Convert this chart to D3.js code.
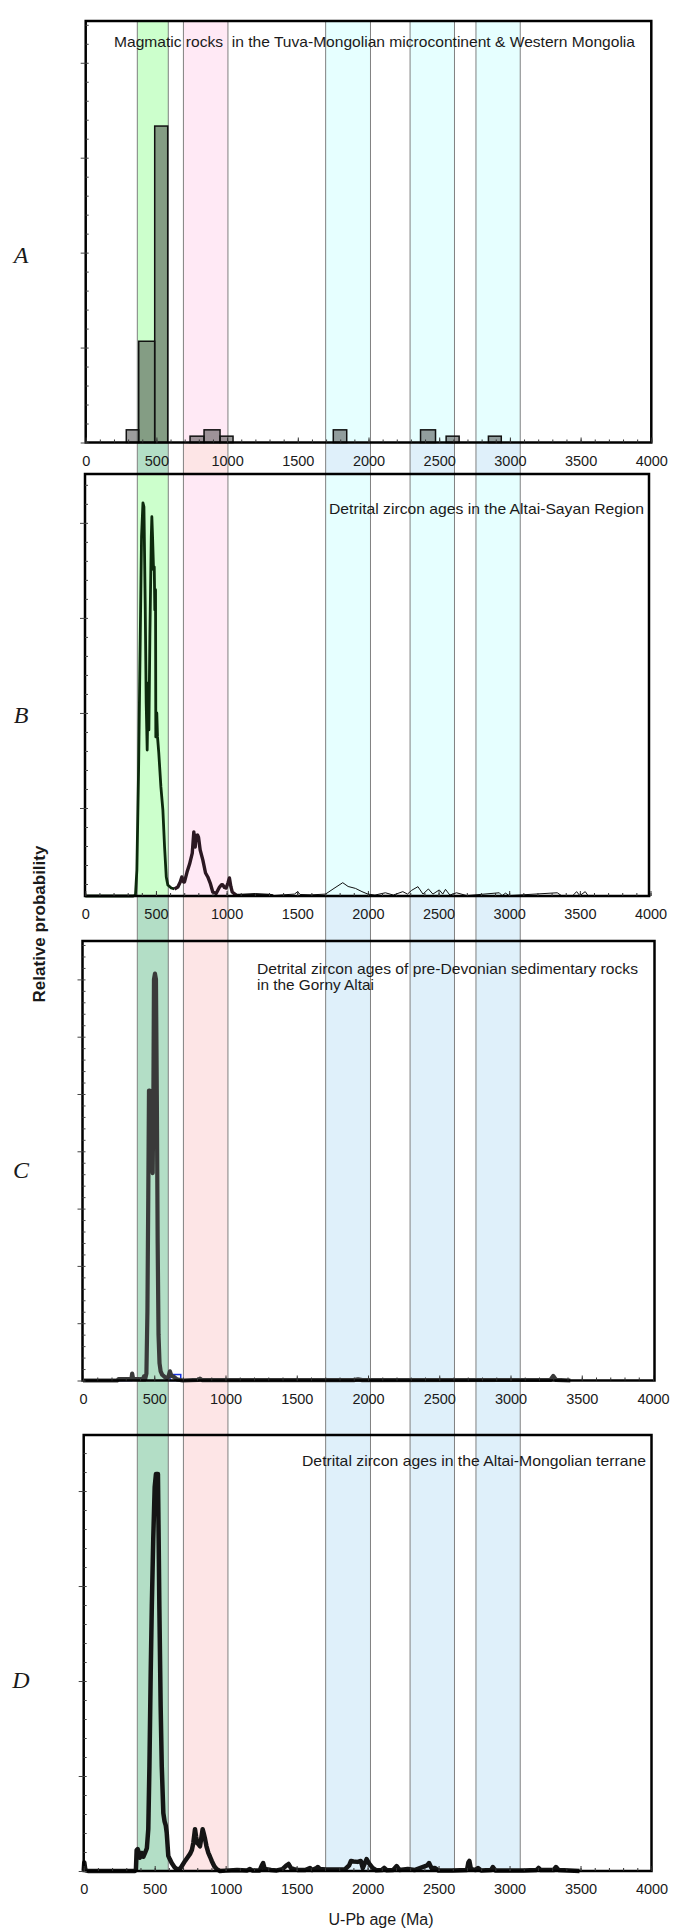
<!DOCTYPE html>
<html>
<head>
<meta charset="utf-8">
<script src="https://cdn.jsdelivr.net/npm/d3@7"></script>
<style>
  body { margin: 0; background: #fff; }
  svg text { font-family: "Liberation Sans", Arial, sans-serif; fill: #1a1a1a; }
</style>
</head>
<body>
<svg id="chart" width="673" height="1932"></svg>
<script>
// ---- data ----
// age bands shared by all panels (Ma)
const bandRanges = [[365, 584], [691, 1006], [1697, 2014], [2294, 2608], [2760, 3073]];

// A: histogram of magmatic ages, [from, to, count]
const magmaticBins = [
  [287, 375, 2], [375, 488, 16], [488, 580, 50],
  [738, 837, 1], [837, 950, 2], [950, 1042, 1],
  [1751, 1846, 2], [2368, 2474, 2], [2549, 2641, 1], [2848, 2939, 1]
];

// B: Altai-Sayan probability curve [age, rel. prob]
const altaiSayan = [
  [0, 0], [340, 0], [355, 0.05], [365, 1.37], [377, 6.63], [389, 13.63], [398, 18.9], [408, 20.68],
  [415, 20.47], [424, 15.37], [431, 10.16], [438, 7.68], [445, 11.21], [450, 8.74], [457, 13.63],
  [467, 18.9], [471, 19.95], [476, 18.9], [483, 17.16], [488, 17.32], [492, 15.05], [497, 16.11],
  [499, 8.37], [506, 9.63], [511, 8.37], [520, 7.53], [535, 5.74], [549, 4.53], [561, 2.58],
  [573, 1.0], [584, 0.58], [608, 0.42], [631, 0.37], [655, 0.47], [672, 0.74], [683, 1.0],
  [695, 0.74], [702, 0.74], [720, 1.26], [738, 1.68], [757, 2.26], [768, 3.37], [773, 2.6],
  [778, 2.58], [784, 3.2], [789, 3.16], [795, 3.2], [801, 3.1], [813, 2.42], [832, 1.89],
  [851, 1.21], [867, 1.0], [884, 0.68], [902, 0.21], [926, 0.13], [950, 0.47], [965, 0.6],
  [973, 0.58], [985, 0.45], [997, 0.42], [1010, 0.7], [1020, 0.95], [1030, 0.5], [1040, 0.21],
  [1067, 0.05], [1100, 0.05], [1200, 0.08], [1300, 0.04], [1330, 0.02], [1400, 0.06], [1480, 0.1],
  [1503, 0.23], [1520, 0.08], [1600, 0.06], [1700, 0.1], [1760, 0.4], [1822, 0.7], [1860, 0.5],
  [1912, 0.4], [1958, 0.23], [2000, 0.1], [2050, 0.05], [2124, 0.17], [2180, 0.05], [2247, 0.23],
  [2280, 0.1], [2310, 0.3], [2354, 0.49], [2390, 0.1], [2428, 0.37], [2460, 0.1], [2505, 0.32],
  [2530, 0.1], [2549, 0.35], [2580, 0.05], [2627, 0.17], [2700, 0.02], [2930, 0.17], [2950, 0.02],
  [2974, 0.15], [3000, 0.02], [3340, 0.17], [3370, 0.02], [3450, 0.02], [3477, 0.23], [3500, 0.02],
  [3538, 0.23], [3560, 0], [4000, 0]
];
// where the B curve changes its pen
const altaiSayanBreaks = [0, 631, 1067, 1330, 4000];

// C: Gorny Altai curve
const gornyAltai = [
  [0, 0], [240, 0], [250, 0.12], [340, 0.15], [345, 0.6], [352, 0.15], [420, 0.1], [428, 0.35],
  [436, 0.1], [445, 0.6], [452, 6], [458, 16], [463, 25.3], [468, 25.3], [478, 22], [489, 18.1],
  [494, 25], [498, 35], [505, 35.5], [512, 35], [518, 25], [524, 12], [530, 4], [537, 1.5],
  [545, 0.8], [556, 0.5], [575, 0.3], [590, 0.2], [600, 0.35], [610, 0.8], [620, 0.4], [640, 0.3],
  [660, 0.1], [700, 0], [810, 0.05], [821, 0.17], [835, 0.03], [1900, 0.03], [1930, 0.1],
  [1960, 0.03], [3280, 0.05], [3300, 0.4], [3320, 0.05], [3420, 0]
];
// C: small blue histogram under the curve [from, to, value]
const gornyAltaiBins = [[248, 342, 0.15], [611, 686, 0.52]];

// D: Altai-Mongolian terrane curve
const altaiMongolian = [
  [0, 0], [4, 0.45], [12, 0.05], [30, 0], [360, 0], [368, 0.1], [373, 1.1], [380, 1.15], [385, 1.05],
  [395, 0.7], [408, 0.95], [420, 0.75], [432, 0.95], [445, 1.2], [455, 2.2], [463, 5.5], [472, 10.4],
  [480, 14], [490, 17.5], [500, 20.2], [509, 20.9], [523, 20.9], [528, 17.5], [533, 13.9], [542, 8.7],
  [550, 5.5], [561, 3.05], [570, 2.6], [578, 2.4], [585, 2.0], [596, 0.8], [608, 0.6], [620, 0.42],
  [640, 0.2], [655, 0.1], [678, 0.1], [695, 0.3], [714, 0.53], [730, 0.7], [749, 0.9], [762, 1.1],
  [772, 1.47], [784, 2.2], [792, 1.8], [800, 1.47], [810, 1.4], [819, 1.3], [828, 1.7], [838, 2.2],
  [845, 2.0], [855, 1.68], [865, 1.3], [878, 0.95], [890, 0.75], [902, 0.53], [920, 0.25], [937, 0.1],
  [960, 0], [1000, 0.02], [1080, 0.05], [1150, 0.03], [1170, 0.1], [1190, 0.02], [1240, 0.03],
  [1255, 0.3], [1264, 0.42], [1275, 0.1], [1320, 0.05], [1360, 0.03], [1400, 0.1], [1430, 0.3],
  [1443, 0.37], [1460, 0.15], [1482, 0.1], [1510, 0.05], [1560, 0.05], [1594, 0.16], [1610, 0.05],
  [1640, 0.15], [1649, 0.21], [1665, 0.1], [1704, 0.08], [1760, 0.08], [1840, 0.08], [1870, 0.3],
  [1883, 0.53], [1900, 0.5], [1930, 0.48], [1952, 0.53], [1966, 0.15], [1980, 0.4], [1993, 0.63],
  [2010, 0.4], [2035, 0.16], [2060, 0.04], [2100, 0.05], [2117, 0.16], [2135, 0.04], [2180, 0.05],
  [2205, 0.26], [2225, 0.05], [2283, 0.1], [2330, 0.05], [2420, 0.3], [2433, 0.42], [2450, 0.15],
  [2475, 0.16], [2500, 0.02], [2600, 0.02], [2700, 0.05], [2710, 0.45], [2717, 0.53], [2728, 0.1],
  [2760, 0.05], [2778, 0.16], [2800, 0.03], [2870, 0.05], [2882, 0.21], [2900, 0.03], [3100, 0.02],
  [3190, 0.05], [3204, 0.16], [3220, 0.05], [3310, 0.05], [3327, 0.21], [3345, 0.05], [3493, 0]
];

const ageTicks = d3.range(0, 4001, 500);
const minorAgeTicks = d3.range(0, 4001, 100);

const panelTitles = [
  ["Magmatic rocks  in the Tuva-Mongolian microcontinent & Western Mongolia"],
  ["Detrital zircon ages in the Altai-Sayan Region"],
  ["Detrital zircon ages of pre-Devonian sedimentary rocks", "in the Gorny Altai"],
  ["Detrital zircon ages in the Altai-Mongolian terrane"]
];
const panelLetters = ["A", "B", "C", "D"];

// ---- layout ----
const svg = d3.select("#chart");

const lightFill = ["#ccffcc", "#ffe9f5", "#e6ffff", "#e6ffff", "#e6ffff"];
const darkFill = ["#b3dec6", "#fde5e6", "#dff0fa", "#dff0fa", "#dff0fa"];

const panels = [
  {top: 21, bottom: 442.5, frame: [85.7, 651.3], xr: [85.7, 651.3], ymax: 66.6, step: 3, majorStart: 0, light: true,
   titleX: 114, titleY: [46.5], titleW: [521], letterY: 263},
  {top: 474, bottom: 896, frame: [85, 649], xr: [85.3, 650.5], ymax: 22.2, step: 1, majorStart: 4.63, minorStart: 0.63, light: true,
   titleX: 329, titleY: [514], titleW: [315], letterY: 723},
  {top: 941, bottom: 1380.5, frame: [82.5, 654.5], xr: [83, 653], ymax: 38.35, step: 1, majorStart: 0, light: false,
   titleX: 257, titleY: [973.5, 989.5], titleW: [381, 117], letterY: 1178},
  {top: 1435, bottom: 1871, frame: [83.7, 651.5], xr: [83.7, 651.5], ymax: 22.95, step: 1, majorStart: 0, light: false,
   titleX: 302, titleY: [1466], titleW: [344], letterY: 1688}
];

panels.forEach(p => {
  p.x = d3.scaleLinear().domain([0, 4000]).range(p.xr);
  p.y = d3.scaleLinear().domain([0, p.ymax]).range([p.bottom, p.top]);
});

const bandX = panels[0].x;
const bandTop = panels[0].top;
const bandBottom = panels[3].bottom;

// full-height bands
svg.append("g").selectAll("rect").data(bandRanges).join("rect")
  .attr("x", d => bandX(d[0]))
  .attr("width", d => bandX(d[1]) - bandX(d[0]))
  .attr("y", bandTop)
  .attr("height", bandBottom - bandTop)
  .attr("fill", (d, i) => darkFill[i]);

// lighter bands inside the two upper panels
panels.filter(p => p.light).forEach(p => {
  svg.append("g").selectAll("rect").data(bandRanges).join("rect")
    .attr("x", d => bandX(d[0]))
    .attr("width", d => bandX(d[1]) - bandX(d[0]))
    .attr("y", p.top)
    .attr("height", p.bottom - p.top)
    .attr("fill", (d, i) => lightFill[i]);
});

// band edges
svg.append("g").selectAll("line").data(bandRanges.flat()).join("line")
  .attr("x1", d => bandX(d)).attr("x2", d => bandX(d))
  .attr("y1", bandTop).attr("y2", bandBottom)
  .attr("stroke", "#808080").attr("stroke-width", 1);

// ---- marks ----
const pA = panels[0], pB = panels[1], pC = panels[2], pD = panels[3];

svg.append("g").selectAll("rect").data(magmaticBins).join("rect")
  .attr("x", d => pA.x(d[0]))
  .attr("width", d => pA.x(d[1]) - pA.x(d[0]))
  .attr("y", d => pA.y(d[2]))
  .attr("height", d => pA.y(0) - pA.y(d[2]))
  .attr("fill", "rgba(60,60,60,0.5)")
  .attr("stroke", "#111")
  .attr("stroke-width", 1.5);

function curve(p) {
  return d3.line().x(d => p.x(d[0])).y(d => p.y(d[1]));
}

// B in four pens
const bPens = [
  {color: "#0d2a0d", width: 2.8},
  {color: "#2b1822", width: 3.4},
  {color: "#111", width: 2.8},
  {color: "#111", width: 1}
];
bPens.forEach((pen, i) => {
  const lo = altaiSayanBreaks[i], hi = altaiSayanBreaks[i + 1];
  svg.append("path")
    .datum(altaiSayan.filter(d => d[0] >= lo && d[0] <= hi))
    .attr("d", curve(pB))
    .attr("fill", "none")
    .attr("stroke", pen.color)
    .attr("stroke-width", pen.width)
    .attr("stroke-linejoin", "round");
});

// C
svg.append("g").selectAll("rect").data(gornyAltaiBins).join("rect")
  .attr("x", d => pC.x(d[0]))
  .attr("width", d => pC.x(d[1]) - pC.x(d[0]))
  .attr("y", d => pC.y(d[2]))
  .attr("height", d => pC.y(0) - pC.y(d[2]))
  .attr("fill", "none")
  .attr("stroke", "#1530e0")
  .attr("stroke-width", 1.5);

svg.append("path")
  .datum(gornyAltai)
  .attr("d", curve(pC))
  .attr("fill", "none")
  .attr("stroke", "#3a3a3a")
  .attr("stroke-width", 4.2)
  .attr("stroke-linejoin", "round");

// D
svg.append("path")
  .datum(altaiMongolian)
  .attr("d", curve(pD))
  .attr("fill", "none")
  .attr("stroke", "#151515")
  .attr("stroke-width", 4.5)
  .attr("stroke-linejoin", "round");

// ---- frames, axes, text ----
panels.forEach((p, i) => {
  const g = svg.append("g");

  g.append("rect")
    .attr("x", p.frame[0]).attr("y", p.top)
    .attr("width", p.frame[1] - p.frame[0])
    .attr("height", p.bottom - p.top)
    .attr("fill", "none")
    .attr("stroke", "#000")
    .attr("stroke-width", 2.5);

  // x ticks pointing into the plot
  g.append("g").attr("transform", `translate(0,${p.bottom})`)
    .call(d3.axisTop(p.x).tickValues(minorAgeTicks).tickSize(3).tickFormat(""))
    .call(a => a.select(".domain").remove())
    .call(a => a.selectAll("line").attr("stroke", "#333"));
  g.append("g").attr("transform", `translate(0,${p.bottom})`)
    .call(d3.axisTop(p.x).tickValues(ageTicks).tickSize(5).tickFormat(""))
    .call(a => a.select(".domain").remove())
    .call(a => a.selectAll("line").attr("stroke", "#333"));

  // x labels
  g.append("g").attr("transform", `translate(0,${p.bottom})`)
    .call(d3.axisBottom(p.x).tickValues(ageTicks).tickSize(0).tickPadding(13).tickFormat(d3.format("d")))
    .call(a => a.select(".domain").remove())
    .call(a => a.selectAll("text")
      .attr("font-size", 14.5)
      .attr("font-family", "Liberation Sans, Arial, sans-serif")
      .attr("fill", "#1a1a1a"));

  // y ticks
  const minorY = d3.range(p.minorStart || 0, p.ymax, p.step);
  const majorY = d3.range(p.majorStart, p.ymax, p.step * 5);
  g.append("g").attr("transform", `translate(${p.frame[0]},0)`)
    .call(d3.axisRight(p.y).tickValues(minorY).tickSize(3).tickFormat(""))
    .call(a => a.select(".domain").remove())
    .call(a => a.selectAll("line").attr("stroke", "#444"));
  g.append("g").attr("transform", `translate(${p.frame[0]},0)`)
    .call(d3.axisLeft(p.y).tickValues(majorY).tickSize(5).tickFormat(""))
    .call(a => a.select(".domain").remove())
    .call(a => a.selectAll("line").attr("stroke", "#444"));

  // title
  panelTitles[i].forEach((t, j) => {
    g.append("text")
      .attr("x", p.titleX)
      .attr("y", p.titleY[j])
      .attr("font-size", 15)
      .attr("textLength", p.titleW[j])
      .attr("lengthAdjust", "spacingAndGlyphs")
      .style("white-space", "pre")
      .text(t);
  });

  // panel letter
  g.append("text")
    .attr("x", 21)
    .attr("y", p.letterY)
    .attr("text-anchor", "middle")
    .attr("font-size", 24)
    .attr("font-style", "italic")
    .style("font-family", "'Liberation Serif', 'Times New Roman', serif")
    .text(panelLetters[i]);
});

// shared axis titles
svg.append("text")
  .attr("transform", "translate(45,924) rotate(-90)")
  .attr("text-anchor", "middle")
  .attr("font-size", 17)
  .attr("font-weight", "bold")
  .text("Relative probability");

svg.append("text")
  .attr("x", 381)
  .attr("y", 1925)
  .attr("text-anchor", "middle")
  .attr("font-size", 16)
  .text("U-Pb age (Ma)");
</script>
</body>
</html>
